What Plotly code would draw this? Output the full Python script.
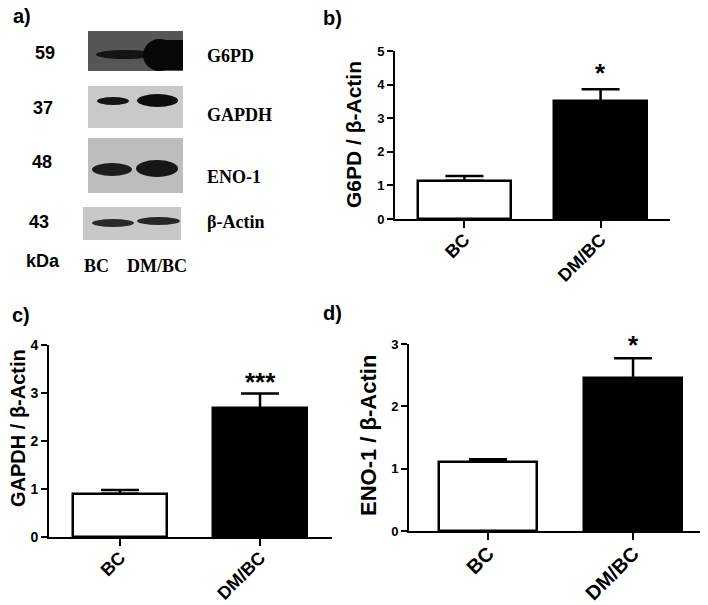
import plotly.graph_objects as go

# reference canvas is 708x605; the page body adds an 8px margin, so the
# figure itself is drawn 8px smaller and all layout positions are shifted
REF_W, REF_H = 708, 605
OFF = 8
W, H = REF_W - OFF, REF_H - OFF

# ---------------- data ----------------
categories = ["BC", "DM/BC"]

g6pd_mean = [1.14, 3.50]
g6pd_err = [0.14, 0.36]
g6pd_sig = ["", "*"]

gapdh_mean = [0.90, 2.68]
gapdh_err = [0.08, 0.31]
gapdh_sig = ["", "***"]

eno1_mean = [1.11, 2.45]
eno1_err = [0.04, 0.32]
eno1_sig = ["", "*"]

blot_proteins = ["G6PD", "GAPDH", "ENO-1", "β-Actin"]
blot_kda = ["59", "37", "48", "43"]
lane_labels = ["BC", "DM/BC"]

# ---------------- helpers ----------------
def px(x):
    return (x - OFF) / W


def py(y):
    return 1 - (y - OFF) / H


SANS = "Liberation Sans, Arial, sans-serif"
SERIF = "Liberation Serif, Times New Roman, serif"
bar_colors = ["white", "black"]


def note(fig, text, x, y, font, xanchor="center", angle=0):
    fig.add_annotation(x=px(x), y=py(y), xref="paper", yref="paper", text=text,
                       showarrow=False, xanchor=xanchor, yanchor="middle",
                       textangle=angle, font=font)


fig = go.Figure()

panels = [
    # (xaxis, yaxis, means, errs, sig, xdom px, ydom px, ymax, xrange, bar width,
    #  tick font, category font, star shift)
    ("x", "y", g6pd_mean, g6pd_err, g6pd_sig, (395, 670), (219, 51), 5, (-0.51, 1.51), 0.68, 13, 18, 16),
    ("x2", "y2", gapdh_mean, gapdh_err, gapdh_sig, (49, 332), (537, 345), 4, (-0.507, 1.514), 0.67, 14, 18, 11),
    ("x3", "y3", eno1_mean, eno1_err, eno1_sig, (409, 707), (531, 344), 3, (-0.545, 1.51), 0.68, 13, 20, 13),
]

for i, (xa, ya, means, errs, sig, xd, yd, ymax, xr, bw, tfs, cfs, sshift) in enumerate(panels):
    fig.add_trace(go.Bar(
        x=categories, y=means, width=bw,
        marker=dict(color=bar_colors, line=dict(color="black", width=2.5)),
        error_y=dict(type="data", array=errs, arrayminus=[0, 0], symmetric=False,
                     color="black", thickness=2.5, width=19),
        xaxis=xa, yaxis=ya, showlegend=False,
    ))
    sfx = "" if i == 0 else str(i + 1)
    fig.layout["xaxis" + sfx] = dict(
        domain=[px(xd[0]), px(xd[1])], anchor=ya, range=list(xr),
        type="category", showline=True, linewidth=2, linecolor="black",
        ticks="outside", ticklen=7, tickwidth=2, tickcolor="black",
        tickangle=-45, showgrid=False, zeroline=False, automargin=False,
        ticklabelstandoff=-6,
        tickfont=dict(family=SANS, size=cfs, color="black", weight="bold"),
    )
    fig.layout["yaxis" + sfx] = dict(
        domain=[py(yd[0]), py(yd[1])], anchor=xa, range=[0, ymax],
        dtick=1, showline=True, linewidth=2, linecolor="black",
        ticks="outside", ticklen=6, tickwidth=2, tickcolor="black",
        showgrid=False, zeroline=False, automargin=False,
        tickfont=dict(family=SANS, size=tfs, color="black", weight="bold"),
    )
    for c, m, e, s in zip(categories, means, errs, sig):
        if s:
            fig.add_annotation(x=c, y=m + e, xref=xa, yref=ya, text=s, showarrow=False,
                               xanchor="center", yanchor="middle", yshift=sshift,
                               font=dict(family=SANS, size=26, color="black", weight="bold"))

# y-axis titles
for txt, x, y, fs in [("G6PD / β-Actin", 354, 135, 21), ("GAPDH / β-Actin", 18, 428, 20),
                      ("ENO-1 / β-Actin", 368, 435, 22)]:
    note(fig, txt, x, y, dict(family=SANS, size=fs, color="black", weight="bold"), angle=-90)

# panel letters
letter_font = dict(family=SANS, size=20, color="black", weight="bold")
for txt, x, y in [("a)", 22, 16), ("b)", 332, 18), ("c)", 21, 315), ("d)", 332, 313)]:
    note(fig, txt, x, y, letter_font)

# ---------------- western blot (panel a) ----------------
boxes = [  # x0, x1, y0, y1, bg
    (88, 183, 31, 71, "#565656"),
    (88, 183, 86, 128, "#c9c9c9"),
    (88, 183, 138, 193, "#bdbdbd"),
    (83, 181, 207, 240, "#c8c8c8"),
]
bands = [  # (type, x0, x1, y0, y1, colour)
    [("circle", 96, 154, 50, 59, "#141414"), ("circle", 143, 176, 39, 71, "#080808"),
     ("rect", 160, 183, 40, 70, "#080808")],
    [("circle", 97, 129, 97, 105, "#141414"), ("circle", 137, 178, 94, 107, "#0c0c0c")],
    [("circle", 92, 132, 163, 176, "#1c1c1c"), ("circle", 136, 178, 160, 177, "#161616")],
    [("circle", 92, 134, 219, 227, "#2a2a2a"), ("circle", 137, 180, 217, 225, "#262626")],
]
shapes = []
for b in boxes:
    shapes.append(dict(type="rect", xref="paper", yref="paper", x0=px(b[0]), x1=px(b[1]),
                       y0=py(b[3]), y1=py(b[2]), fillcolor=b[4], line=dict(width=0), layer="below"))
for lane in bands:
    for b in lane:
        shapes.append(dict(type=b[0], xref="paper", yref="paper", x0=px(b[1]), x1=px(b[2]),
                           y0=py(b[4]), y1=py(b[3]), fillcolor=b[5], line=dict(width=0)))
fig.update_layout(shapes=shapes)

kda_font = dict(family=SANS, size=18, color="black", weight="bold")
kda_pos = [(45, 53), (43, 108), (42, 162), (39, 222)]
for t, (x, y) in zip(blot_kda, kda_pos):
    note(fig, t, x, y, kda_font)
note(fig, "kDa", 43, 261, kda_font)

serif_font = dict(family=SERIF, size=18, color="black", weight="bold")
prot_y = [56, 115, 177, 222]
for t, y in zip(blot_proteins, prot_y):
    note(fig, t, 205, y, serif_font, xanchor="left")

for t, x in zip(lane_labels, [96, 157]):
    note(fig, t, x, 266, serif_font)

fig.update_layout(
    width=W, height=H, margin=dict(l=0, r=0, t=0, b=0),
    paper_bgcolor="white", plot_bgcolor="white", bargap=0,
)

fig.write_html("out.html")
